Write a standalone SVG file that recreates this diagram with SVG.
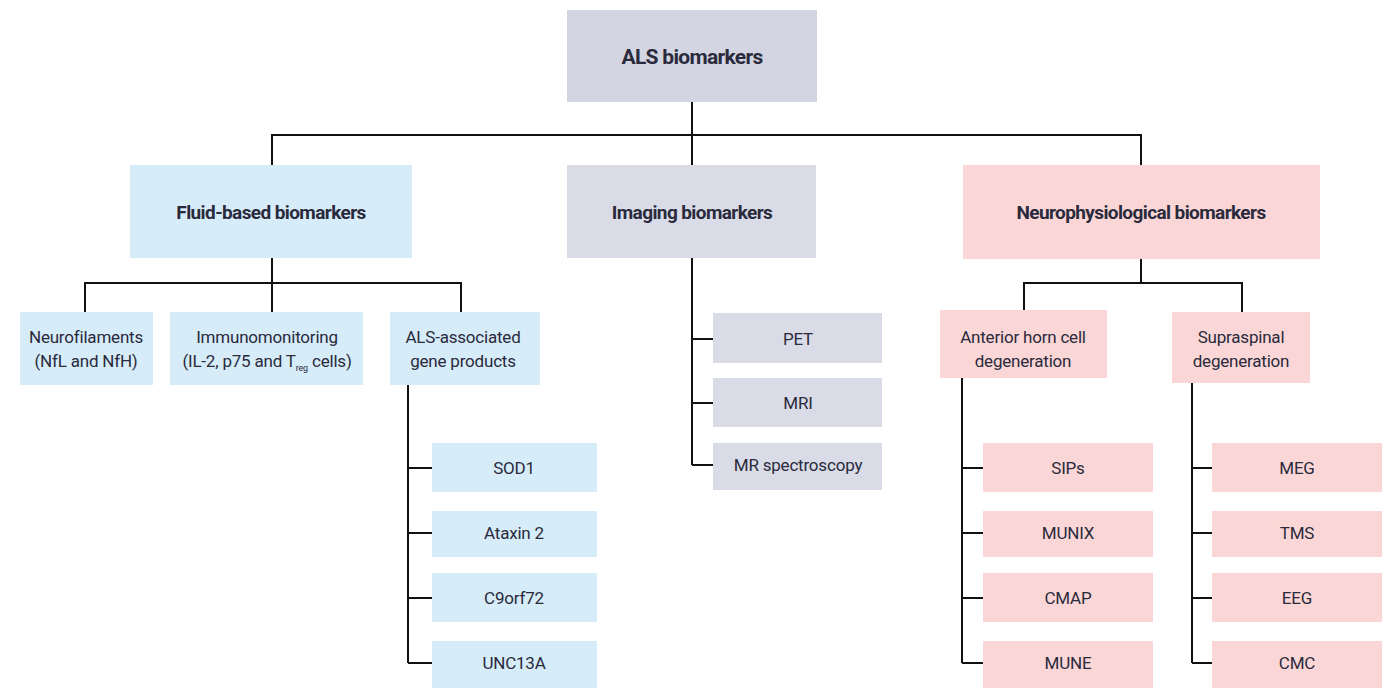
<svg xmlns="http://www.w3.org/2000/svg" width="1393" height="688" viewBox="0 0 1393 688">
<style>
  .blue { fill: #d6ecf9; }
  .gray { fill: #d9dce7; }
  .pink { fill: #fad7d6; }
  .root { fill: #d3d6e2; }
  text { font-family: Roboto, "Liberation Sans", sans-serif; fill: #2a2a3c; text-anchor: middle; }
  .h { font-size: 19px; font-weight: bold; letter-spacing: -0.6px; }
  .r { font-size: 21px; font-weight: bold; letter-spacing: -0.7px; }
  .t { font-size: 17px; letter-spacing: -0.2px; }
  .sub { font-size: 9px; }
  .conn { fill: none; stroke: #111; stroke-width: 2; }
</style>
<rect width="1393" height="688" fill="#ffffff"/>

<g id="connectors" class="conn">
  <path d="M692,102 V165 M272,165 V135 H1141 V165"/>
  <path d="M272,258 V283 M85,312 V283 H461 V312 M272,283 V312"/>
  <path d="M408,385 V663 M408,468 H432 M408,533 H432 M408,598 H432 M408,663 H432"/>
  <path d="M692,258 V465 M692,339 H713 M692,403 H713 M692,465 H713"/>
  <path d="M1141,259 V283 M1024,312 V283 H1242 V312"/>
  <path d="M962,378 V663 M962,468 H983 M962,533 H983 M962,598 H983 M962,663 H983"/>
  <path d="M1192,383 V663 M1192,468 H1212 M1192,533 H1212 M1192,598 H1212 M1192,663 H1212"/>
</g>

<g id="root"><rect class="root" x="567" y="10" width="250" height="92"/><text class="r" x="692" y="64">ALS biomarkers</text></g>

<g id="fluid"><rect class="blue" x="130" y="165" width="282" height="93"/><text class="h" x="271" y="219">Fluid-based biomarkers</text></g>
<g id="imaging"><rect class="gray" x="567" y="165" width="249" height="93"/><text class="h" x="692" y="219">Imaging biomarkers</text></g>
<g id="neuro"><rect class="pink" x="963" y="165" width="357" height="94"/><text class="h" x="1141" y="219">Neurophysiological biomarkers</text></g>

<g id="neurofilaments"><rect class="blue" x="20" y="312" width="133" height="73"/><text class="t" x="86" y="343">Neurofilaments</text><text class="t" x="86" y="367">(NfL and NfH)</text></g>
<g id="immuno"><rect class="blue" x="170" y="312" width="193" height="73"/><text class="t" x="267" y="343">Immunomonitoring</text><text class="t" x="267" y="367">(IL-2, p75 and T<tspan class="sub" dy="4">reg</tspan><tspan dy="-4"> cells)</tspan></text></g>
<g id="alsgene"><rect class="blue" x="390" y="312" width="150" height="73"/><text class="t" x="463" y="343">ALS-associated</text><text class="t" x="463" y="367">gene products</text></g>

<g id="sod1"><rect class="blue" x="432" y="443" width="165" height="49"/><text class="t" x="514" y="474">SOD1</text></g>
<g id="ataxin2"><rect class="blue" x="432" y="511" width="165" height="46"/><text class="t" x="514" y="539">Ataxin 2</text></g>
<g id="c9orf72"><rect class="blue" x="432" y="573" width="165" height="49"/><text class="t" x="514" y="604">C9orf72</text></g>
<g id="unc13a"><rect class="blue" x="432" y="641" width="165" height="47"/><text class="t" x="514" y="669">UNC13A</text></g>

<g id="pet"><rect class="gray" x="713" y="313" width="169" height="50"/><text class="t" x="798" y="345">PET</text></g>
<g id="mri"><rect class="gray" x="713" y="378" width="169" height="49"/><text class="t" x="798" y="409">MRI</text></g>
<g id="mrs"><rect class="gray" x="713" y="443" width="169" height="47"/><text class="t" x="798" y="471">MR spectroscopy</text></g>

<g id="anterior"><rect class="pink" x="940" y="310" width="167" height="68"/><text class="t" x="1023" y="343">Anterior horn cell</text><text class="t" x="1023" y="367">degeneration</text></g>
<g id="supraspinal"><rect class="pink" x="1172" y="312" width="138" height="71"/><text class="t" x="1241" y="343">Supraspinal</text><text class="t" x="1241" y="367">degeneration</text></g>

<g id="sips"><rect class="pink" x="983" y="443" width="170" height="49"/><text class="t" x="1068" y="474">SIPs</text></g>
<g id="munix"><rect class="pink" x="983" y="511" width="170" height="46"/><text class="t" x="1068" y="539">MUNIX</text></g>
<g id="cmap"><rect class="pink" x="983" y="573" width="170" height="49"/><text class="t" x="1068" y="604">CMAP</text></g>
<g id="mune"><rect class="pink" x="983" y="641" width="170" height="47"/><text class="t" x="1068" y="669">MUNE</text></g>

<g id="meg"><rect class="pink" x="1212" y="443" width="170" height="49"/><text class="t" x="1297" y="474">MEG</text></g>
<g id="tms"><rect class="pink" x="1212" y="511" width="170" height="46"/><text class="t" x="1297" y="539">TMS</text></g>
<g id="eeg"><rect class="pink" x="1212" y="573" width="170" height="49"/><text class="t" x="1297" y="604">EEG</text></g>
<g id="cmc"><rect class="pink" x="1212" y="641" width="170" height="47"/><text class="t" x="1297" y="669">CMC</text></g>
</svg>
